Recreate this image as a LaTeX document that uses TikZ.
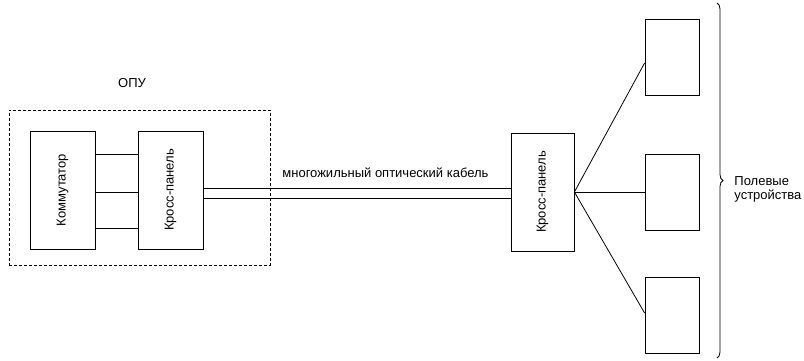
\documentclass[tikz,border=0pt]{standalone}
\usepackage{fontspec}
\setmainfont{Liberation Sans}
\usetikzlibrary{decorations.pathreplacing,calc}
\begin{document}
\begin{tikzpicture}[x=1pt,y=-1pt,
  line width=0.8pt,
  box/.style={draw,rectangle,inner sep=0pt,font=\fontsize{13}{14}\selectfont},
  lbl/.style={font=\fontsize{13}{14}\selectfont,inner sep=0pt},
  conn/.style={draw,line width=0.8pt}]
\useasboundingbox (0,0) rectangle (804,361);
% OPU dashed enclosure
\node[draw,dash pattern=on 3pt off 2pt,line width=0.8pt,minimum width=261pt,minimum height=155pt,inner sep=0pt] (opu) at (139.5,187.5) {};
\node[lbl] (opul) at (132,83) {ОПУ};
% boxes
\node[box,minimum width=65pt,minimum height=118pt] (kom) at (62.5,190) {\rotatebox{90}{Коммутатор}};
\node[box,minimum width=65pt,minimum height=118pt] (kp1) at (170.5,190) {\rotatebox{90}{Кросс-панель}};
\node[box,minimum width=63pt,minimum height=118pt] (kp2) at (542.5,192) {\rotatebox{90}{Кросс-панель}};
\node[box,minimum width=54pt,minimum height=76pt] (f1) at (672,57) {};
\node[box,minimum width=54pt,minimum height=76pt] (f2) at (672,192) {};
\node[box,minimum width=54pt,minimum height=76pt] (f3) at (672,315.5) {};
% links komm - cross
\draw[conn] (kom.east |- 0,154) -- (kp1.west |- 0,154);
\draw[conn] (kom.east |- 0,192) -- (kp1.west |- 0,192);
\draw[conn] (kom.east |- 0,228) -- (kp1.west |- 0,228);
% cable
\draw[conn] (kp1.east |- 0,188) -- (kp2.west |- 0,188);
\draw[conn] (kp1.east |- 0,198) -- (kp2.west |- 0,198);
\node[lbl,anchor=west] (cab) at (282,173) {многожильный оптический кабель};
% fan out
\coordinate (hub) at (kp2.east);
\draw[conn] (hub) -- (f1.west |- 0,63);
\draw[conn] (hub) -- (f2.west);
\draw[conn] (hub) -- (f3.west |- 0,313);
% brace
\draw[line width=0.8pt,decorate,decoration={brace,amplitude=6pt}] (717,3) -- (717,358);
\node[lbl,anchor=west,align=left] (pol) at (734,189) {Полевые\\устройства};
\end{tikzpicture}
\end{document}
